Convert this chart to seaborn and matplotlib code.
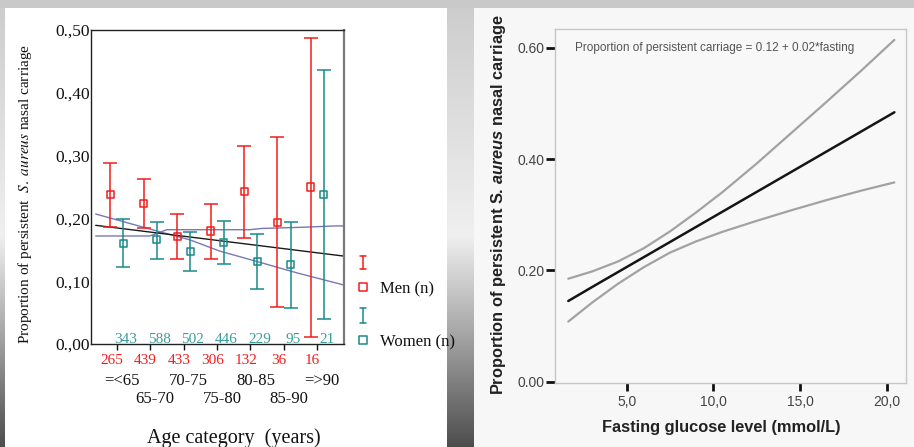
import numpy as np
import pandas as pd
import matplotlib
matplotlib.use("Agg")
import matplotlib.pyplot as plt
import seaborn as sns

# ---------------- data: left panel ----------------
age_categories = ["=<65", "65-70", "70-75", "75-80", "80-85", "85-90", "=>90"]
men_n = [265, 439, 433, 306, 132, 36, 16]
women_n = [343, 588, 502, 446, 229, 95, 21]
men_prop = [0.238, 0.223, 0.171, 0.180, 0.243, 0.194, 0.250]
men_lo = [0.187, 0.184, 0.135, 0.136, 0.168, 0.059, 0.011]
men_hi = [0.289, 0.262, 0.207, 0.223, 0.316, 0.330, 0.488]
women_prop = [0.160, 0.166, 0.147, 0.161, 0.131, 0.127, 0.238]
women_lo = [0.122, 0.135, 0.116, 0.127, 0.087, 0.058, 0.040]
women_hi = [0.199, 0.195, 0.179, 0.196, 0.175, 0.195, 0.436]
ytick_labels_left = ["0.,00", "0.,10", "0.,20", "0.,30", "0.,40", "0.,50"]

trend_x = [-0.63, 6.79]
trend_y = [0.189, 0.140]
ci_a_x = [-0.63, 1.20, 2.18, 3.08, 4.22, 5.41, 6.79]
ci_a_y = [0.207, 0.180, 0.166, 0.148, 0.131, 0.113, 0.094]
ci_b_x = [-0.63, 0.99, 1.50, 3.98, 4.34, 5.62, 6.52, 6.79]
ci_b_y = [0.172, 0.172, 0.182, 0.182, 0.184, 0.186, 0.188, 0.188]

# ---------------- data: right panel ----------------
glucose = [1.63, 3.0, 4.5, 6.0, 7.5, 9.0, 10.5, 12.5, 14.5, 16.5, 18.5, 20.44]
fit_prop = [0.145, 0.170, 0.197, 0.224, 0.251, 0.278, 0.305, 0.341, 0.377, 0.413, 0.449, 0.484]
upper_prop = [0.185, 0.198, 0.216, 0.240, 0.270, 0.304, 0.340, 0.392, 0.447, 0.502, 0.558, 0.614]
lower_prop = [0.108, 0.142, 0.176, 0.206, 0.232, 0.252, 0.269, 0.289, 0.308, 0.326, 0.343, 0.358]
xticks_right = [5, 10, 15, 20]
xtick_labels_right = ["5,0", "10,0", "15,0", "20,0"]
yticks_right = [0.0, 0.2, 0.4, 0.6]
ytick_labels_right = ["0.00", "0.20", "0.40", "0.60"]

# ---------------- style ----------------
sns.set_style("white")
plt.rcParams["font.family"] = ["Liberation Serif", "DejaVu Serif"]
plt.rcParams["mathtext.fontset"] = "custom"
plt.rcParams["mathtext.rm"] = "Liberation Sans:bold"
plt.rcParams["mathtext.it"] = "Liberation Sans:bold:italic"
plt.rcParams["mathtext.bf"] = "Liberation Sans:bold"

RED = "#f41c1c"
TEAL = "#1a8a8a"
TEAL_TXT = "#3a9c9c"
PURPLE = "#7878b4"
W, H = 914, 447

fig = plt.figure(figsize=(W / 100, H / 100), dpi=100)

# ---------------- background (decoration) ----------------
bg = fig.add_axes([0, 0, 1, 1], zorder=0)
yy = np.arange(H)
strip = np.interp(yy, [0, 120, 235, 330, 447], [0.80, 0.87, 0.94, 0.66, 0.30])
img = np.ones((H, W))
img[:, :] = strip[:, None]
img[:8, :] = 0.79
img[8:, 5:447] = 1.0
img[8:, 474:] = 0.972
bg.imshow(np.dstack([img] * 3), extent=[0, W, H, 0], aspect="auto", interpolation="bilinear")
bg.set_xlim(0, W)
bg.set_ylim(H, 0)
bg.axis("off")

# ---------------- left panel ----------------
ax1 = fig.add_axes([91 / W, (H - 344) / H, 253 / W, 314 / H], zorder=2)
ax1.set_facecolor("white")
xi = np.arange(len(age_categories))
mx = xi - 0.19
wx = xi + 0.20
mp, wp = np.array(men_prop), np.array(women_prop)

ax1.errorbar(mx, mp, yerr=[mp - np.array(men_lo), np.array(men_hi) - mp], fmt="none",
             ecolor=RED, elinewidth=1.1, capsize=4.7, capthick=1.1, zorder=3)
ax1.errorbar(wx, wp, yerr=[wp - np.array(women_lo), np.array(women_hi) - wp], fmt="none",
             ecolor=TEAL, elinewidth=1.1, capsize=4.7, capthick=1.1, zorder=3)

sns.lineplot(x=ci_a_x, y=ci_a_y, ax=ax1, color=PURPLE, lw=1.0, zorder=2)
sns.lineplot(x=ci_b_x, y=ci_b_y, ax=ax1, color=PURPLE, lw=1.0, zorder=2)
sns.lineplot(x=trend_x, y=trend_y, ax=ax1, color="#1a1a1a", lw=1.0, zorder=2)

sns.scatterplot(x=mx, y=mp, ax=ax1, marker="s", s=26, fc="none", ec=RED, linewidth=1.1, zorder=4)
sns.scatterplot(x=wx, y=wp, ax=ax1, marker="s", s=26, fc="none", ec=TEAL, linewidth=1.1, zorder=4)

ax1.set_xlim(-0.77, 6.80)
ax1.set_ylim(0, 0.5)
ax1.set_xticks(xi)
ax1.set_xticklabels([])
ax1.set_yticks([0, 0.1, 0.2, 0.3, 0.4, 0.5])
ax1.set_yticklabels(ytick_labels_left, fontsize=12.5)
ax1.tick_params(axis="y", left=True, direction="out", length=0, width=1, pad=1, colors="#111")
ax1.tick_params(axis="x", bottom=True, direction="out", length=4, width=1, colors="#111")
ax1.set_xlabel("")
ax1.set_ylabel("")
for side in ["left", "bottom", "top"]:
    ax1.spines[side].set_color("#222")
    ax1.spines[side].set_linewidth(1.0)
ax1.spines["right"].set_color("#7a7a7a")
ax1.spines["right"].set_linewidth(1.6)

tr = ax1.get_xaxis_transform()
for i in xi:
    ax1.text(i + 0.28, 0.001, str(women_n[i]), color=TEAL_TXT, fontsize=11,
             ha="center", va="baseline", zorder=5)
    ax1.text(i - 0.14, -0.053, str(men_n[i]), color=RED, fontsize=11,
             ha="center", va="center", transform=tr)
    ax1.text(i + 0.15, -0.117 if i % 2 == 0 else -0.175, age_categories[i],
             color="#111", fontsize=12, ha="center", va="center", transform=tr)
ax1.text(0.565, -0.300, "Age category  (years)", transform=ax1.transAxes,
         fontsize=14.5, ha="center", va="center", color="#111")

# ---------------- right panel ----------------
ax2 = fig.add_axes([555 / W, (H - 382.7) / H, 351 / W, 353.7 / H], zorder=2)
ax2.set_facecolor("#f8f8f8")
sns.lineplot(x=glucose, y=upper_prop, ax=ax2, color="#a2a2a2", lw=1.6)
sns.lineplot(x=glucose, y=lower_prop, ax=ax2, color="#a2a2a2", lw=1.6)
sns.lineplot(x=glucose, y=fit_prop, ax=ax2, color="#151515", lw=1.8)
ax2.set_xlim(0.863, 21.11)
ax2.set_ylim(-0.0018, 0.6336)
ax2.set_xticks(xticks_right)
ax2.set_xticklabels(xtick_labels_right, family="Liberation Sans", fontsize=10)
ax2.set_yticks(yticks_right)
ax2.set_yticklabels(ytick_labels_right, family="Liberation Sans", fontsize=10)
ax2.tick_params(axis="y", left=True, direction="out", length=6.5, width=2, pad=1,
                color="#111", labelcolor="#444")
ax2.tick_params(axis="x", bottom=True, direction="out", length=5.5, width=2, pad=3,
                color="#111", labelcolor="#444")
ax2.set_xlabel("")
ax2.set_ylabel("")
for s in ax2.spines.values():
    s.set_color("#c6c6c6")
    s.set_linewidth(1.0)

# ---------------- overlay: labels & legend ----------------
ov = fig.add_axes([0, 0, 1, 1], zorder=6)
ov.set_xlim(0, W)
ov.set_ylim(H, 0)
ov.axis("off")
ov.patch.set_alpha(0)

ov.text(25, 193.5, r"Proportion of persistent  $S.\ aureus$ nasal carriage",
        rotation=90, ha="center", va="center", fontsize=11, color="#111",
        math_fontfamily="stix")

# legend glyphs
for (ytop, ybot, ysq, label, col) in [(256, 269, 287, "Men (n)", RED),
                                       (308, 322.5, 340, "Women (n)", TEAL)]:
    ov.plot([363, 363], [ytop, ybot], color=col, lw=1.1)
    ov.plot([360, 366], [ytop, ytop], color=col, lw=1.1)
    ov.plot([360, 366], [ybot, ybot], color=col, lw=1.1)
    ov.scatter([363], [ysq], marker="s", s=26, facecolors="none", edgecolors=col, linewidths=1.1)
    ov.text(380, ysq + 2.5, label, fontsize=12, ha="left", va="center", color="#111")

# right panel texts
ov.text(575, 48, "Proportion of persistent carriage = 0.12 + 0.02*fasting",
        family="Liberation Sans", fontsize=8.5, color="#555", ha="left", va="center")
ov.text(498, 205, r"Proportion of persistent S. $aureus$ nasal carriage", rotation=90,
        family="Liberation Sans", fontweight="bold", fontsize=11.8, color="#222",
        ha="center", va="center")
ov.text(721.7, 427.7, "Fasting glucose level (mmol/L)", family="Liberation Sans",
        fontweight="bold", fontsize=11.8, color="#222", ha="center", va="center")

fig.savefig("out.png", dpi=100)
